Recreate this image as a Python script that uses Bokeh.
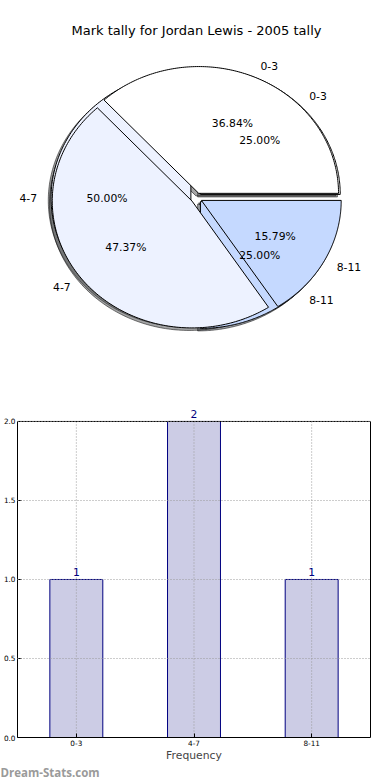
import numpy as np
from bokeh.plotting import figure
from bokeh.models import (Range1d, ColumnDataSource, Label, FactorRange, LinearAxis,
                          FixedTicker, PrintfTickFormatter, Span)
from bokeh.core.properties import value
from bokeh.layouts import column, row
from bokeh.embed import file_html
from bokeh.resources import INLINE

# ---------------- data ----------------
title_text = "Mark tally for Jordan Lewis - 2005 tally"
categories = ["0-3", "4-7", "8-11"]
frequency = [1, 2, 1]          # bar chart and first (under) pie: 25 / 50 / 25 %
marks = [7, 9, 3]              # second (top) pie: 36.84 / 47.37 / 15.79 %
y_ticks = [0.0, 0.5, 1.0, 1.5, 2.0]
x_title = "Frequency"
watermark = "Dream-Stats.com"

# ---------------- styles ----------------
FONT = "DejaVu Sans"
slice_colors = [(255, 255, 255), (237, 242, 255), (197, 217, 255)]
EXPLODE = 0.04
LABEL_DIST = 1.1
PCT_DIST = 0.6
SH_DX, SH_DY = -0.02, -0.02
BORDER_L, BORDER_R = 15, 20
GRID_COLOR, GRID_DASH = "#9a9a9a", "1 2"


def hexc(rgb):
    return "#%02x%02x%02x" % tuple(int(round(c)) for c in rgb)


def build_wedges(values):
    total = float(sum(values))
    out = []
    start = 0.0
    for v, col, lab in zip(values, slice_colors, categories):
        frac = v / total
        end = start + 360.0 * frac
        mid = np.deg2rad((start + end) / 2.0)
        ox, oy = EXPLODE * np.cos(mid), EXPLODE * np.sin(mid)
        t = np.deg2rad(np.linspace(start, end, 160))
        xs = np.concatenate([[ox], ox + np.cos(t)])
        ys = np.concatenate([[oy], oy + np.sin(t)])
        out.append(dict(xs=xs, ys=ys, color=col, label=lab, frac=frac,
                        mid=mid, ox=ox, oy=oy))
        start = end
    return out


pies = [build_wedges(frequency), build_wedges(marks)]

# ---------------- pie figure ----------------
pie = figure(width=390, height=386,
             x_range=Range1d(-1.2802, 1.2447), y_range=Range1d(-1.4866, 1.5576),
             x_axis_location=None, y_axis_location=None,
             toolbar_location=None, output_backend="svg",
             min_border_left=BORDER_L, min_border_right=BORDER_R,
             min_border_top=0, min_border_bottom=0,
             outline_line_color=None)
pie.grid.visible = False

# shadows first (below every wedge)
for w in [w for pw in pies for w in pw]:
    pie.patch(x=list(w["xs"] + SH_DX), y=list(w["ys"] + SH_DY),
              fill_color=hexc([0.3 * c for c in w["color"]]), fill_alpha=0.5,
              line_color="black", line_alpha=0.5, line_width=1)

for pw in pies:
    src = ColumnDataSource(dict(xs=[list(w["xs"]) for w in pw],
                                ys=[list(w["ys"]) for w in pw],
                                fc=[hexc(w["color"]) for w in pw]))
    pie.patches(xs="xs", ys="ys", fill_color="fc", line_color="black",
                line_width=1, source=src)

for pw in pies:
    for w in pw:
        c, s = np.cos(w["mid"]), np.sin(w["mid"])
        x = w["ox"] + LABEL_DIST * c
        pie.add_layout(Label(x=x, y=w["oy"] + LABEL_DIST * s, text=w["label"],
                             text_align="left" if x > 0 else "right",
                             text_baseline="middle", text_font=FONT,
                             text_font_size="10.8px", text_color="black"))
        pie.add_layout(Label(x=w["ox"] + PCT_DIST * c, y=w["oy"] + PCT_DIST * s,
                             text="%.2f%%" % (100 * w["frac"]),
                             text_align="center", text_baseline="middle",
                             text_font=FONT, text_font_size="10.8px",
                             text_color="black"))

pie.add_layout(Label(x=0, y=1.321, text=title_text, text_align="center",
                     text_baseline="middle", text_font=FONT,
                     text_font_size="13px", text_color="black"))

# ---------------- bar figure ----------------
y_top = max(y_ticks)
bar = figure(width=390, height=378,
             x_range=FactorRange(factors=categories), y_range=Range1d(0, 2.12),
             toolbar_location=None, output_backend="svg",
             min_border_left=BORDER_L, min_border_right=BORDER_R,
             min_border_top=16, min_border_bottom=24,
             outline_line_color=None)

bar.vbar(x=categories, top=frequency, width=0.45, fill_color="#cccce5",
         line_color="#000080", line_width=1)

# dotted grid (drawn over the bars, limited to the axes box)
bar.segment(x0=categories, y0=[0] * len(categories), x1=categories,
            y1=[y_top] * len(categories), line_color=GRID_COLOR,
            line_dash=GRID_DASH, line_width=1)
bar.xgrid.visible = False
bar.ygrid.ticker = FixedTicker(ticks=y_ticks)
bar.ygrid.grid_line_color = GRID_COLOR
bar.ygrid.grid_line_dash = GRID_DASH
bar.ygrid.level = "overlay"

for ax in (bar.xaxis[0], bar.yaxis[0]):
    ax.major_tick_in = 4
    ax.major_tick_out = 0
    ax.minor_tick_line_color = None
    ax.axis_line_color = "black"
    ax.major_label_text_font = FONT
    ax.major_label_text_font_size = "7.3px"
    ax.major_label_text_color = "black"
    ax.major_label_standoff = 2

bar.yaxis.ticker = FixedTicker(ticks=y_ticks)
bar.yaxis.formatter = PrintfTickFormatter(format="%.1f")
bar.yaxis.bounds = (0, y_top)
bar.xaxis.axis_label = x_title
bar.xaxis.axis_label_text_font = FONT
bar.xaxis.axis_label_text_font_size = "10.8px"
bar.xaxis.axis_label_text_font_style = "normal"
bar.xaxis.axis_label_standoff = 0

# right and top edges of the axes box
right_edge = LinearAxis(ticker=FixedTicker(ticks=[]), bounds=(0, y_top),
                        axis_line_color="black", minor_tick_line_color=None,
                        major_tick_line_color=None)
bar.add_layout(right_edge, "right")
bar.add_layout(Span(location=y_top, dimension="width", line_color="black",
                    line_width=1))

# value labels above bars
for i, (cat, v) in enumerate(zip(categories, frequency)):
    bar.add_layout(Label(x=i + 0.5, y=v, y_offset=3, text=str(v),
                         text_align="center", text_baseline="bottom",
                         text_font=FONT, text_font_size="10.8px",
                         text_color="#000080"))

# ---------------- watermark strip ----------------
wm = figure(width=390, height=16, x_range=Range1d(0, 1), y_range=Range1d(0, 1),
            x_axis_location=None, y_axis_location=None,
            toolbar_location=None, output_backend="svg",
            min_border=0, outline_line_color=None)
wm.grid.visible = False
wm.text(x=[0], y=[0.5], text=[watermark], text_align="left",
        text_baseline="middle", text_font=value("Open Sans"),
        text_font_style="bold", text_font_size="11.5px", text_color="#9a9a9a")

layout = column(pie, bar, row(wm))
open("out.html", "w").write(file_html(layout, INLINE))
